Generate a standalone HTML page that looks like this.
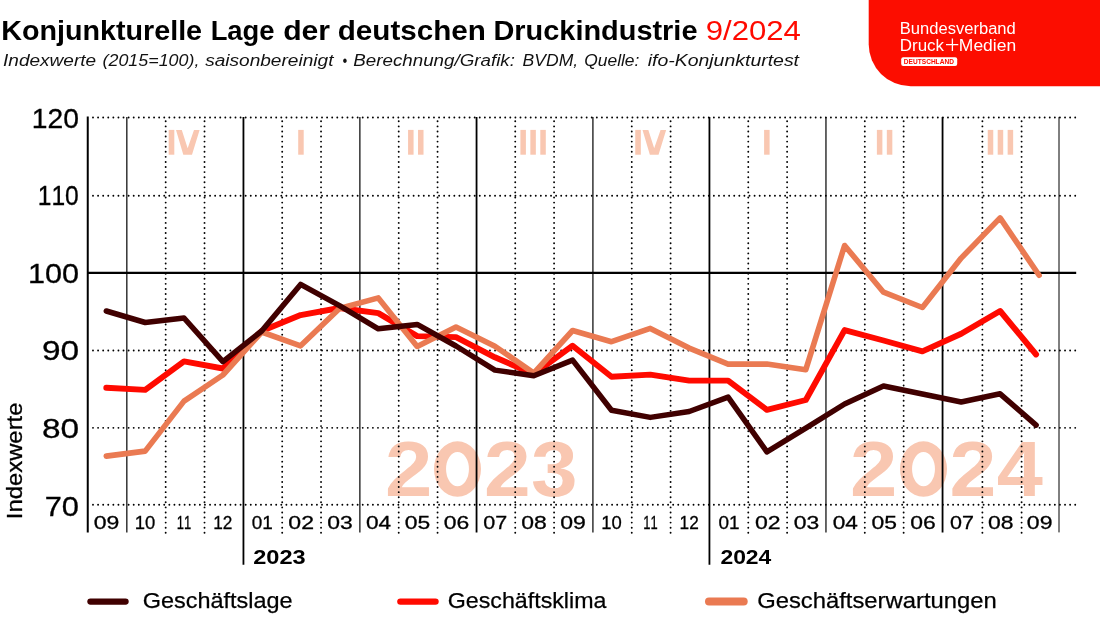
<!DOCTYPE html>
<html lang="de"><head><meta charset="utf-8"><title>Konjunkturelle Lage der deutschen Druckindustrie 9/2024</title>
<style>html,body{margin:0;padding:0;background:#fff;}body{width:1100px;height:619px;overflow:hidden;font-family:"Liberation Sans",sans-serif;}svg{display:block;will-change:transform;}text{font-kerning:none;}</style>
</head><body>
<svg width="1100" height="619" viewBox="0 0 1100 619" font-family="Liberation Sans, sans-serif">
<rect width="1100" height="619" fill="#fff"/>
<g id="title">
<text x="1.28" y="40.2" font-size="28" font-weight="bold" fill="#000" textLength="200.80" lengthAdjust="spacingAndGlyphs">Konjunkturelle</text>
<text x="210.67" y="40.2" font-size="28" font-weight="bold" fill="#000" textLength="63.87" lengthAdjust="spacingAndGlyphs">Lage</text>
<text x="283.16" y="40.2" font-size="28" font-weight="bold" fill="#000" textLength="46.89" lengthAdjust="spacingAndGlyphs">der</text>
<text x="337.79" y="40.2" font-size="28" font-weight="bold" fill="#000" textLength="148.05" lengthAdjust="spacingAndGlyphs">deutschen</text>
<text x="493.47" y="40.2" font-size="28" font-weight="bold" fill="#000" textLength="204.02" lengthAdjust="spacingAndGlyphs">Druckindustrie</text>
<text x="705.74" y="40.2" font-size="28" fill="#ff0a00" textLength="95.17" lengthAdjust="spacingAndGlyphs">9/2024</text>
<text x="3.05" y="66.4" font-size="17.4" font-style="italic" fill="#111" textLength="93.06" lengthAdjust="spacingAndGlyphs">Indexwerte</text>
<text x="102.56" y="66.4" font-size="17.4" font-style="italic" fill="#111" textLength="96.81" lengthAdjust="spacingAndGlyphs">(2015=100),</text>
<text x="205.15" y="66.4" font-size="17.4" font-style="italic" fill="#111" textLength="128.29" lengthAdjust="spacingAndGlyphs">saisonbereinigt</text>
<text x="342.57" y="66.4" font-size="17.4" font-style="italic" fill="#111" textLength="4.65" lengthAdjust="spacingAndGlyphs">•</text>
<text x="353.32" y="66.4" font-size="17.4" font-style="italic" fill="#111" textLength="161.63" lengthAdjust="spacingAndGlyphs">Berechnung/Grafik:</text>
<text x="522.56" y="66.4" font-size="17.4" font-style="italic" fill="#111" textLength="55.58" lengthAdjust="spacingAndGlyphs">BVDM,</text>
<text x="584.24" y="66.4" font-size="17.4" font-style="italic" fill="#111" textLength="55.16" lengthAdjust="spacingAndGlyphs">Quelle:</text>
<text x="647.69" y="66.4" font-size="17.4" font-style="italic" fill="#111" textLength="151.34" lengthAdjust="spacingAndGlyphs">ifo-Konjunkturtest</text>
</g>
<g id="logo">
<path d="M868.7 0 H1100 V86.2 H910.7 A42 42 0 0 1 868.7 44.2 Z" fill="#fc0d00"/>
<text x="899.84" y="33.5" font-size="16" fill="#fff" textLength="115.92" lengthAdjust="spacingAndGlyphs">Bundesverband</text>
<text x="899.81" y="50.7" font-size="16" fill="#fff" textLength="44.27" lengthAdjust="spacingAndGlyphs">Druck</text>
<text x="958.87" y="50.7" font-size="16" fill="#fff" textLength="57.27" lengthAdjust="spacingAndGlyphs">Medien</text>
<path d="M946 44.6 H951.2 Q952.4 44.6 952.4 43.4 V38.6 M958.3 44.6 H953.6 Q952.4 44.6 952.4 45.8 V50.9" stroke="#fff" stroke-width="1.3" fill="none"/>
<rect x="901.2" y="57.3" width="56" height="8.7" rx="2" fill="#fff"/>
<text x="903.86" y="64.0" font-size="6.4" font-weight="bold" fill="#fc0d00" textLength="50.02" lengthAdjust="spacingAndGlyphs">DEUTSCHLAND</text>
</g>
<g id="watermark">
<text x="385.05" y="496.0" font-size="78.2" font-weight="bold" fill="#f9c7b1" textLength="47.36" lengthAdjust="spacingAndGlyphs">2</text>
<path fill="#f9c7b1" fill-rule="evenodd" d="M434.00 469.05 a23.5 27.7 0 1 0 47.0 0 a23.5 27.7 0 1 0 -47.0 0 Z M446.05 469.05 a11.45 17.15 0 1 0 22.9 0 a11.45 17.15 0 1 0 -22.9 0 Z"/>
<text x="484.09" y="496.0" font-size="78.2" font-weight="bold" fill="#f9c7b1" textLength="46.67" lengthAdjust="spacingAndGlyphs">2</text>
<text x="531.08" y="496.0" font-size="78.2" font-weight="bold" fill="#f9c7b1" textLength="46.54" lengthAdjust="spacingAndGlyphs">3</text>
<text x="850.05" y="496.0" font-size="78.2" font-weight="bold" fill="#f9c7b1" textLength="47.36" lengthAdjust="spacingAndGlyphs">2</text>
<path fill="#f9c7b1" fill-rule="evenodd" d="M900.00 469.05 a23.5 27.7 0 1 0 47.0 0 a23.5 27.7 0 1 0 -47.0 0 Z M912.05 469.05 a11.45 17.15 0 1 0 22.9 0 a11.45 17.15 0 1 0 -22.9 0 Z"/>
<text x="949.48" y="496.0" font-size="78.2" font-weight="bold" fill="#f9c7b1" textLength="46.90" lengthAdjust="spacingAndGlyphs">2</text>
<text x="996.75" y="496.0" font-size="78.2" font-weight="bold" fill="#f9c7b1" textLength="46.10" lengthAdjust="spacingAndGlyphs">4</text>
</g>
<g id="quarters" fill="#f9c7b1">
<rect x="168.70" y="129.9" width="5.6" height="24.8"/><path d="M176.00 129.9 L181.80 129.9 L187.65 148.3 L194.00 129.9 L199.60 129.9 L192.00 154.7 L183.30 154.7 Z"/>
<rect x="298.20" y="129.9" width="5.5" height="24.8"/>
<rect x="408.07" y="129.9" width="5.5" height="24.8"/><rect x="418.02" y="129.9" width="5.5" height="24.8"/>
<rect x="520.40" y="129.9" width="5.5" height="24.8"/><rect x="530.35" y="129.9" width="5.5" height="24.8"/><rect x="540.30" y="129.9" width="5.5" height="24.8"/>
<rect x="635.25" y="129.9" width="5.6" height="24.8"/><path d="M642.55 129.9 L648.35 129.9 L654.20 148.3 L660.55 129.9 L666.15 129.9 L658.55 154.7 L649.85 154.7 Z"/>
<rect x="764.10" y="129.9" width="5.5" height="24.8"/>
<rect x="876.88" y="129.9" width="5.5" height="24.8"/><rect x="886.83" y="129.9" width="5.5" height="24.8"/>
<rect x="987.75" y="129.9" width="5.5" height="24.8"/><rect x="997.70" y="129.9" width="5.5" height="24.8"/><rect x="1007.65" y="129.9" width="5.5" height="24.8"/>
</g>
<g id="grid" fill="none" stroke="#000">
<path d="M93 117.46 H1076" stroke-width="1.9" stroke-linecap="round" stroke-dasharray="0 5.0892"/>
<path d="M93 195.73 H1076" stroke-width="1.9" stroke-linecap="round" stroke-dasharray="0 5.0892"/>
<path d="M93 350.57 H1076" stroke-width="1.9" stroke-linecap="round" stroke-dasharray="0 5.0892"/>
<path d="M93 427.84 H1076" stroke-width="1.9" stroke-linecap="round" stroke-dasharray="0 5.0892"/>
<path d="M93 504.8 H1076" stroke-width="1.9" stroke-linecap="round" stroke-dasharray="0 5.0892"/>
<path d="M87.75 116.4 V532.4" stroke-width="2.0"/>
<path d="M126.84 116.9 V532.4" stroke-width="1.2"/>
<path d="M165.68 121.3 V534" stroke-width="1.9" stroke-linecap="round" stroke-dasharray="0 5.08"/>
<path d="M204.52 121.3 V534" stroke-width="1.9" stroke-linecap="round" stroke-dasharray="0 5.08"/>
<path d="M243.45 116.9 V564.7" stroke-width="1.8"/>
<path d="M282.20 121.3 V534" stroke-width="1.9" stroke-linecap="round" stroke-dasharray="0 5.08"/>
<path d="M321.04 121.3 V534" stroke-width="1.9" stroke-linecap="round" stroke-dasharray="0 5.08"/>
<path d="M359.88 116.9 V532.4" stroke-width="1.2"/>
<path d="M398.72 121.3 V534" stroke-width="1.9" stroke-linecap="round" stroke-dasharray="0 5.08"/>
<path d="M437.56 121.3 V534" stroke-width="1.9" stroke-linecap="round" stroke-dasharray="0 5.08"/>
<path d="M476.55 116.9 V532.4" stroke-width="1.8"/>
<path d="M515.24 121.3 V534" stroke-width="1.9" stroke-linecap="round" stroke-dasharray="0 5.08"/>
<path d="M554.08 121.3 V534" stroke-width="1.9" stroke-linecap="round" stroke-dasharray="0 5.08"/>
<path d="M592.92 116.9 V532.4" stroke-width="1.2"/>
<path d="M631.76 121.3 V534" stroke-width="1.9" stroke-linecap="round" stroke-dasharray="0 5.08"/>
<path d="M670.60 121.3 V534" stroke-width="1.9" stroke-linecap="round" stroke-dasharray="0 5.08"/>
<path d="M709.44 116.9 V564.7" stroke-width="1.8"/>
<path d="M748.28 121.3 V534" stroke-width="1.9" stroke-linecap="round" stroke-dasharray="0 5.08"/>
<path d="M787.12 121.3 V534" stroke-width="1.9" stroke-linecap="round" stroke-dasharray="0 5.08"/>
<path d="M825.96 116.9 V532.4" stroke-width="1.2"/>
<path d="M864.80 121.3 V534" stroke-width="1.9" stroke-linecap="round" stroke-dasharray="0 5.08"/>
<path d="M903.64 121.3 V534" stroke-width="1.9" stroke-linecap="round" stroke-dasharray="0 5.08"/>
<path d="M942.55 116.9 V532.4" stroke-width="1.8"/>
<path d="M982.40 121.3 V534" stroke-width="1.9" stroke-linecap="round" stroke-dasharray="0 5.08"/>
<path d="M1021.60 121.3 V534" stroke-width="1.9" stroke-linecap="round" stroke-dasharray="0 5.08"/>
<path d="M1059.00 116.9 V532.4" stroke-width="1.0"/>
<path d="M87.75 272.9 H1076.2" stroke-width="2.1"/>
</g>
<g id="series">
<polyline points="106.3,387.8 145.2,389.9 184.0,361.4 222.9,368.5 261.7,331.0 300.6,315.1 339.5,308.0 378.3,313.1 417.2,336.1 456.0,337.1 494.9,357.3 533.8,374.1 572.6,345.7 611.5,376.8 650.3,374.6 689.2,380.6 728.1,380.6 766.9,409.8 805.8,400.0 844.6,330.1 883.5,340.5 922.4,351.4 961.2,333.7 1000.1,311.0 1036.1,354.5" fill="none" stroke="#ff0a00" stroke-width="5.9" stroke-linecap="round" stroke-linejoin="round"/>
<polyline points="106.3,456.1 145.2,451.1 184.0,401.1 222.9,375.0 261.7,332.0 300.6,345.8 339.5,308.5 378.3,297.9 417.2,346.5 456.0,327.1 494.9,346.2 533.8,373.1 572.6,330.5 611.5,341.7 650.3,328.4 689.2,348.1 728.1,364.1 766.9,364.1 805.8,369.7 844.6,245.5 883.5,292.2 922.4,307.5 961.2,258.1 1000.1,217.9 1039.1,275.3" fill="none" stroke="#ea7a52" stroke-width="5.6" stroke-linecap="round" stroke-linejoin="round"/>
<polyline points="106.3,311.0 145.2,322.5 184.0,318.0 222.9,361.6 261.7,331.0 300.6,284.4 339.5,305.7 378.3,328.8 417.2,324.4 456.0,346.0 494.9,370.1 533.8,375.8 572.6,360.1 611.5,410.2 650.3,417.4 689.2,411.5 728.1,397.1 766.9,451.8 805.8,428.2 844.6,404.0 883.5,386.0 922.4,394.0 961.2,402.0 1000.1,393.8 1036.1,425.1" fill="none" stroke="#400000" stroke-width="5.5" stroke-linecap="round" stroke-linejoin="round"/>
</g>
<g id="ylabels" stroke="#000" stroke-width="0.3">
<text x="31.75" y="128.2" font-size="28.4" fill="#000" textLength="47.16" lengthAdjust="spacingAndGlyphs">120</text>
<text x="37.73" y="204.5" font-size="28.4" fill="#000" textLength="41.03" lengthAdjust="spacingAndGlyphs">110</text>
<text x="27.97" y="283.2" font-size="28.4" fill="#000" textLength="51.02" lengthAdjust="spacingAndGlyphs">100</text>
<text x="41.93" y="360.1" font-size="28.4" fill="#000" textLength="37.17" lengthAdjust="spacingAndGlyphs">90</text>
<text x="41.95" y="438.1" font-size="28.4" fill="#000" textLength="37.16" lengthAdjust="spacingAndGlyphs">80</text>
<text x="44.72" y="516.2" font-size="28.4" fill="#000" textLength="34.28" lengthAdjust="spacingAndGlyphs">70</text>
<text transform="translate(21.8 517) rotate(-90)" x="-2.20" y="0" font-size="22" fill="#000" textLength="116.66" lengthAdjust="spacingAndGlyphs">Indexwerte</text>
</g>
<g id="months" stroke="#000" stroke-width="0.3">
<text x="93.72" y="529" font-size="19" fill="#000" textLength="25.59" lengthAdjust="spacingAndGlyphs">09</text>
<text x="134.65" y="529" font-size="19" fill="#000" textLength="20.53" lengthAdjust="spacingAndGlyphs">10</text>
<text x="176.71" y="529" font-size="19" fill="#000" textLength="14.42" lengthAdjust="spacingAndGlyphs">11</text>
<text x="213.13" y="529" font-size="19" fill="#000" textLength="19.18" lengthAdjust="spacingAndGlyphs">12</text>
<text x="251.74" y="529" font-size="19" fill="#000" textLength="21.06" lengthAdjust="spacingAndGlyphs">01</text>
<text x="288.32" y="529" font-size="19" fill="#000" textLength="25.66" lengthAdjust="spacingAndGlyphs">02</text>
<text x="327.16" y="529" font-size="19" fill="#000" textLength="25.50" lengthAdjust="spacingAndGlyphs">03</text>
<text x="366.02" y="529" font-size="19" fill="#000" textLength="25.15" lengthAdjust="spacingAndGlyphs">04</text>
<text x="404.85" y="529" font-size="19" fill="#000" textLength="25.45" lengthAdjust="spacingAndGlyphs">05</text>
<text x="443.68" y="529" font-size="19" fill="#000" textLength="25.50" lengthAdjust="spacingAndGlyphs">06</text>
<text x="483.38" y="529" font-size="19" fill="#000" textLength="23.92" lengthAdjust="spacingAndGlyphs">07</text>
<text x="521.36" y="529" font-size="19" fill="#000" textLength="25.49" lengthAdjust="spacingAndGlyphs">08</text>
<text x="560.20" y="529" font-size="19" fill="#000" textLength="25.59" lengthAdjust="spacingAndGlyphs">09</text>
<text x="601.13" y="529" font-size="19" fill="#000" textLength="20.53" lengthAdjust="spacingAndGlyphs">10</text>
<text x="643.19" y="529" font-size="19" fill="#000" textLength="14.42" lengthAdjust="spacingAndGlyphs">11</text>
<text x="679.61" y="529" font-size="19" fill="#000" textLength="19.18" lengthAdjust="spacingAndGlyphs">12</text>
<text x="718.42" y="529" font-size="19" fill="#000" textLength="21.06" lengthAdjust="spacingAndGlyphs">01</text>
<text x="755.00" y="529" font-size="19" fill="#000" textLength="25.66" lengthAdjust="spacingAndGlyphs">02</text>
<text x="793.84" y="529" font-size="19" fill="#000" textLength="25.50" lengthAdjust="spacingAndGlyphs">03</text>
<text x="832.70" y="529" font-size="19" fill="#000" textLength="25.15" lengthAdjust="spacingAndGlyphs">04</text>
<text x="871.53" y="529" font-size="19" fill="#000" textLength="25.45" lengthAdjust="spacingAndGlyphs">05</text>
<text x="910.36" y="529" font-size="19" fill="#000" textLength="25.50" lengthAdjust="spacingAndGlyphs">06</text>
<text x="950.06" y="529" font-size="19" fill="#000" textLength="23.92" lengthAdjust="spacingAndGlyphs">07</text>
<text x="988.04" y="529" font-size="19" fill="#000" textLength="25.49" lengthAdjust="spacingAndGlyphs">08</text>
<text x="1026.88" y="529" font-size="19" fill="#000" textLength="25.59" lengthAdjust="spacingAndGlyphs">09</text>
</g>
<g id="years">
<text x="253.18" y="564.2" font-size="20.3" font-weight="bold" fill="#000" textLength="52.47" lengthAdjust="spacingAndGlyphs">2023</text>
<text x="720.41" y="564.2" font-size="20.3" font-weight="bold" fill="#000" textLength="50.92" lengthAdjust="spacingAndGlyphs">2024</text>
</g>
<g id="legend">
<path d="M90.45 601.6 H125.55" stroke="#400000" stroke-width="6.3" stroke-linecap="round" fill="none"/><text x="142.82" y="607.6" font-size="22" fill="#000" textLength="149.82" lengthAdjust="spacingAndGlyphs" stroke="#000" stroke-width="0.25">Geschäftslage</text>
<path d="M400.40 601.6 H435.50" stroke="#ff0a00" stroke-width="6.4" stroke-linecap="round" fill="none"/><text x="447.83" y="607.6" font-size="22" fill="#000" textLength="158.57" lengthAdjust="spacingAndGlyphs" stroke="#000" stroke-width="0.25">Geschäftsklima</text>
<path d="M709.00 601.6 H743.70" stroke="#ea7a52" stroke-width="8.0" stroke-linecap="round" fill="none"/><text x="757.20" y="607.6" font-size="22" fill="#000" textLength="239.54" lengthAdjust="spacingAndGlyphs" stroke="#000" stroke-width="0.25">Geschäftserwartungen</text>
</g>
</svg></body></html>
